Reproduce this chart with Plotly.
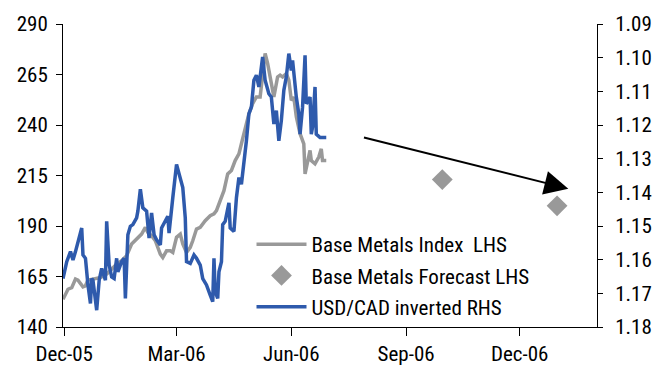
import plotly.graph_objects as go

# Base Metals Index (LHS)
metals_dates = [
    "2005-11-30", "2005-12-02", "2005-12-04", "2005-12-07", "2005-12-10", "2005-12-12",
    "2005-12-14", "2005-12-16", "2005-12-18", "2005-12-20", "2005-12-24", "2005-12-30",
    "2006-01-04", "2006-01-08", "2006-01-12", "2006-01-16", "2006-01-20", "2006-01-24",
    "2006-01-28", "2006-02-01", "2006-02-04", "2006-02-06", "2006-02-09", "2006-02-12",
    "2006-02-16", "2006-02-18", "2006-02-21", "2006-02-24", "2006-02-26", "2006-03-01",
    "2006-03-04", "2006-03-06", "2006-03-09", "2006-03-12", "2006-03-14", "2006-03-17",
    "2006-03-20", "2006-03-24", "2006-03-28", "2006-03-31", "2006-04-02", "2006-04-05",
    "2006-04-08", "2006-04-11", "2006-04-14", "2006-04-17", "2006-04-20", "2006-04-22",
    "2006-04-24", "2006-04-26", "2006-04-28", "2006-05-01", "2006-05-04", "2006-05-07",
    "2006-05-10", "2006-05-11", "2006-05-13", "2006-05-16", "2006-05-18", "2006-05-21",
    "2006-05-23", "2006-05-25", "2006-05-28", "2006-05-30", "2006-06-01", "2006-06-03",
    "2006-06-05", "2006-06-08", "2006-06-11", "2006-06-12", "2006-06-14", "2006-06-16",
    "2006-06-17", "2006-06-20", "2006-06-23", "2006-06-25", "2006-06-26", "2006-06-29",
]
metals_values = [
    153.7, 156.2, 158.7, 159.5, 163.7, 163.2,
    161.2, 159.9, 160.4, 163.2, 163.7, 164.5,
    166.2, 168.6, 171.1, 172.8, 175.3, 181.1,
    183.5, 186.0, 189.3, 186.8, 185.2, 182.7,
    176.1, 174.4, 177.7, 177.7, 176.9, 184.4,
    186.0, 181.1, 176.9, 179.4, 182.7, 188.5,
    189.3, 192.6, 195.1, 196.0, 197.6, 202.6,
    207.5, 215.8, 217.5, 222.4, 225.7, 230.7,
    235.7, 242.3, 245.6, 250.6, 253.9, 253.9,
    270.5, 275.4, 270.5, 260.5, 253.9, 263.8,
    264.7, 263.8, 265.5, 262.2, 252.2, 253.9,
    244.1, 235.7, 230.7, 215.8, 220.8, 227.4,
    222.4, 220.8, 224.1, 228.2, 222.4, 222.4,
]

# Base Metals Forecast (LHS)
forecast_dates = ["2006-09-30", "2006-12-31"]
forecast_values = [213, 200]

# USD/CAD inverted (RHS)
usdcad_dates = [
    "2005-11-30", "2005-12-03", "2005-12-06", "2005-12-08", "2005-12-10", "2005-12-12",
    "2005-12-14", "2005-12-15", "2005-12-16", "2005-12-18", "2005-12-20", "2005-12-22",
    "2005-12-23", "2005-12-24", "2005-12-27", "2005-12-29", "2005-12-31", "2006-01-03",
    "2006-01-04", "2006-01-06", "2006-01-08", "2006-01-10", "2006-01-12", "2006-01-13",
    "2006-01-16", "2006-01-18", "2006-01-19", "2006-01-21", "2006-01-23", "2006-01-25",
    "2006-01-28", "2006-01-29", "2006-01-31", "2006-02-02", "2006-02-05", "2006-02-07",
    "2006-02-09", "2006-02-11", "2006-02-13", "2006-02-16", "2006-02-17", "2006-02-20",
    "2006-02-22", "2006-02-23", "2006-02-24", "2006-02-26", "2006-03-01", "2006-03-04",
    "2006-03-06", "2006-03-08", "2006-03-09", "2006-03-12", "2006-03-15", "2006-03-17",
    "2006-03-20", "2006-03-22", "2006-03-25", "2006-03-28", "2006-03-30", "2006-03-31",
    "2006-04-01", "2006-04-03", "2006-04-04", "2006-04-06", "2006-04-07", "2006-04-09",
    "2006-04-12", "2006-04-13", "2006-04-16", "2006-04-18", "2006-04-20", "2006-04-22",
    "2006-04-24", "2006-04-26", "2006-04-28", "2006-04-30", "2006-05-02", "2006-05-04",
    "2006-05-06", "2006-05-09", "2006-05-11", "2006-05-14", "2006-05-16", "2006-05-18",
    "2006-05-20", "2006-05-22", "2006-05-24", "2006-05-26", "2006-05-28", "2006-05-30",
    "2006-06-01", "2006-06-02", "2006-06-05", "2006-06-07", "2006-06-08", "2006-06-10",
    "2006-06-12", "2006-06-13", "2006-06-16", "2006-06-17", "2006-06-18", "2006-06-20",
    "2006-06-21", "2006-06-24", "2006-06-29",
]
usdcad_values = [
    1.1656, 1.1606, 1.1576, 1.1601, 1.1576, 1.1546, 1.1511, 1.1506, 1.1586, 1.1596,
    1.1675, 1.1730, 1.1656, 1.1661, 1.1750, 1.1661, 1.1626, 1.1661, 1.1486, 1.1616,
    1.1651, 1.1656, 1.1596, 1.1636, 1.1606, 1.1596, 1.1715, 1.1526, 1.1501, 1.1496,
    1.1476, 1.1456, 1.1391, 1.1446, 1.1456, 1.1536, 1.1461, 1.1526, 1.1541, 1.1556,
    1.1506, 1.1486, 1.1471, 1.1521, 1.1476, 1.1416, 1.1317, 1.1356, 1.1386, 1.1476,
    1.1606, 1.1611, 1.1586, 1.1596, 1.1616, 1.1656, 1.1675, 1.1705, 1.1725, 1.1596,
    1.1695, 1.1715, 1.1636, 1.1606, 1.1496, 1.1486, 1.1431, 1.1506, 1.1516, 1.1416,
    1.1356, 1.1376, 1.1317, 1.1247, 1.1167, 1.1147, 1.1067, 1.1052, 1.1087, 1.0998,
    1.1067, 1.1107, 1.1117, 1.1197, 1.1157, 1.1247, 1.1187, 1.1097, 1.1057, 1.0988,
    1.1038, 1.1008, 1.1117, 1.1167, 1.1227, 1.1147, 1.0993, 1.1137, 1.1117, 1.1227,
    1.1207, 1.1087, 1.1227, 1.1237, 1.1237,
]

# Axis ticks
x_tick_dates = ["2005-12-01", "2006-03-01", "2006-06-01", "2006-09-01", "2006-12-01"]
x_tick_labels = ["Dec-05", "Mar-06", "Jun-06", "Sep-06", "Dec-06"]

# Trend arrow (tail -> head), in data units
arrow_tail = ("2006-07-28", 234)
arrow_head = ("2007-01-09", 208.5)

FONT = "Liberation Sans Narrow, Arial Narrow, Roboto Condensed, Roboto, sans-serif"
GRAY = "#999999"
BLUE = "#2E5AAC"

fig = go.Figure()
fig.add_trace(go.Scatter(
    x=metals_dates, y=metals_values, mode="lines", name="Base Metals Index  LHS",
    line=dict(color=GRAY, width=3.5), legendgroup="a",
))
fig.add_trace(go.Scatter(
    x=forecast_dates, y=forecast_values, mode="markers", name="Base Metals Forecast LHS",
    marker=dict(symbol="diamond", color=GRAY, size=16), legendgroup="b",
))
fig.add_trace(go.Scatter(
    x=usdcad_dates, y=usdcad_values, mode="lines", name="USD/CAD inverted RHS",
    line=dict(color=BLUE, width=3.5), yaxis="y2", legendgroup="c",
))

fig.add_annotation(
    x=arrow_head[0], y=arrow_head[1], ax=arrow_tail[0], ay=arrow_tail[1],
    xref="x", yref="y", axref="x", ayref="y", text="", showarrow=True,
    arrowhead=2, arrowsize=2.4, arrowwidth=2, arrowcolor="black", standoff=0,
)

fig.update_layout(
    width=665, height=374,
    margin=dict(l=63, r=68, t=24, b=47, autoexpand=False),
    paper_bgcolor="white", plot_bgcolor="white",
    font=dict(family=FONT, size=21, color="black"),
    showlegend=True,
    legend=dict(
        x=0.353, y=0.0, xanchor="left", yanchor="bottom",
        bgcolor="rgba(0,0,0,0)", traceorder="grouped", tracegroupgap=1,
        font=dict(family=FONT, size=21), itemwidth=50,
    ),
    xaxis=dict(
        type="date", range=["2005-11-30", "2007-02-01"],
        tickvals=x_tick_dates, ticktext=x_tick_labels,
        ticks="outside", ticklen=8, tickcolor="black",
        showline=True, linecolor="black", linewidth=1,
        showgrid=False, zeroline=False, ticklabelstandoff=0, automargin=False,
    ),
    yaxis=dict(
        range=[140, 290], dtick=25, tick0=140,
        ticks="outside", ticklen=6, tickcolor="black",
        showline=True, linecolor="black", linewidth=1,
        showgrid=False, zeroline=False, ticklabelstandoff=4, automargin=False,
    ),
    yaxis2=dict(
        overlaying="y", side="right", range=[1.18, 1.09], dtick=0.01, tick0=1.09,
        tickformat=".2f",
        ticks="outside", ticklen=5, tickcolor="black",
        showline=True, linecolor="black", linewidth=1,
        showgrid=False, zeroline=False, ticklabelstandoff=8, automargin=False,
    ),
)

fig.write_html("out.html")
